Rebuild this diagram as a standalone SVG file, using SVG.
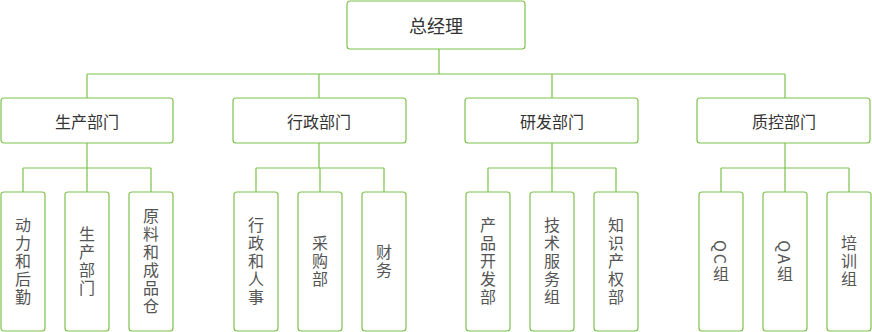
<svg xmlns="http://www.w3.org/2000/svg" width="872" height="332" viewBox="0 0 872 332">
<style>
.box{fill:#fff;stroke:#7dc24b;stroke-width:1.2}
.ln{fill:none;stroke:#7dc24b;stroke-width:1.2}
.t{font-family:"Noto Sans CJK SC","Liberation Sans",sans-serif;fill:#333;text-anchor:middle;dominant-baseline:central}
.t1{font-size:18px}
.t2{font-size:16px}
.v{font-family:"Noto Sans CJK SC","Liberation Sans",sans-serif;fill:#555;font-size:16px;writing-mode:vertical-rl;text-anchor:middle;letter-spacing:2px}
</style>
<g id="connectors">
<path class="ln" d="M439 49V74M87 74H785M87 74V98M319 74V98M552 74V98M785 74V98"/>
<path class="ln" d="M87 143V168M23 168H151M23 168V192M87 168V192M151 168V192"/>
<path class="ln" d="M319 143V168M256 168H384M256 168V192M320 168V192M384 168V192"/>
<path class="ln" d="M552 143V168M488 168H616M488 168V192M552 168V192M616 168V192"/>
<path class="ln" d="M785 143V168M721 168H849M721 168V192M785 168V192M849 168V192"/>
</g>
<g id="n0"><rect class="box" x="347" y="1" width="178" height="48" rx="3"/><text class="t t1" x="436" y="25">总经理</text></g>
<g id="n1"><rect class="box" x="1" y="98" width="172" height="45" rx="3"/><text class="t t2" x="87" y="121">生产部门</text></g>
<g id="n2"><rect class="box" x="233" y="98" width="173" height="45" rx="3"/><text class="t t2" x="319" y="121">行政部门</text></g>
<g id="n3"><rect class="box" x="465" y="98" width="173" height="45" rx="3"/><text class="t t2" x="552" y="121">研发部门</text></g>
<g id="n4"><rect class="box" x="697" y="98" width="173" height="45" rx="3"/><text class="t t2" x="784" y="121">质控部门</text></g>
<g id="l11"><rect class="box" x="1" y="192" width="44" height="139" rx="3"/><text class="v" x="23" y="262">动力和后勤</text></g>
<g id="l12"><rect class="box" x="65" y="192" width="44" height="139" rx="3"/><text class="v" x="87" y="262">生产部门</text></g>
<g id="l13"><rect class="box" x="129" y="192" width="44" height="139" rx="3"/><text class="v" x="151" y="262">原料和成品仓</text></g>
<g id="l21"><rect class="box" x="234" y="192" width="44" height="139" rx="3"/><text class="v" x="256" y="262">行政和人事</text></g>
<g id="l22"><rect class="box" x="298" y="192" width="44" height="139" rx="3"/><text class="v" x="320" y="262">采购部</text></g>
<g id="l23"><rect class="box" x="362" y="192" width="44" height="139" rx="3"/><text class="v" x="384" y="262">财务</text></g>
<g id="l31"><rect class="box" x="466" y="192" width="44" height="139" rx="3"/><text class="v" x="488" y="262">产品开发部</text></g>
<g id="l32"><rect class="box" x="530" y="192" width="44" height="139" rx="3"/><text class="v" x="552" y="262">技术服务组</text></g>
<g id="l33"><rect class="box" x="594" y="192" width="44" height="139" rx="3"/><text class="v" x="616" y="262">知识产权部</text></g>
<g id="l41"><rect class="box" x="699" y="192" width="44" height="139" rx="3"/><text class="v" x="721" y="262">QC组</text></g>
<g id="l42"><rect class="box" x="763" y="192" width="44" height="139" rx="3"/><text class="v" x="785" y="262">QA组</text></g>
<g id="l43"><rect class="box" x="827" y="192" width="44" height="139" rx="3"/><text class="v" x="849" y="262">培训组</text></g>
</svg>
